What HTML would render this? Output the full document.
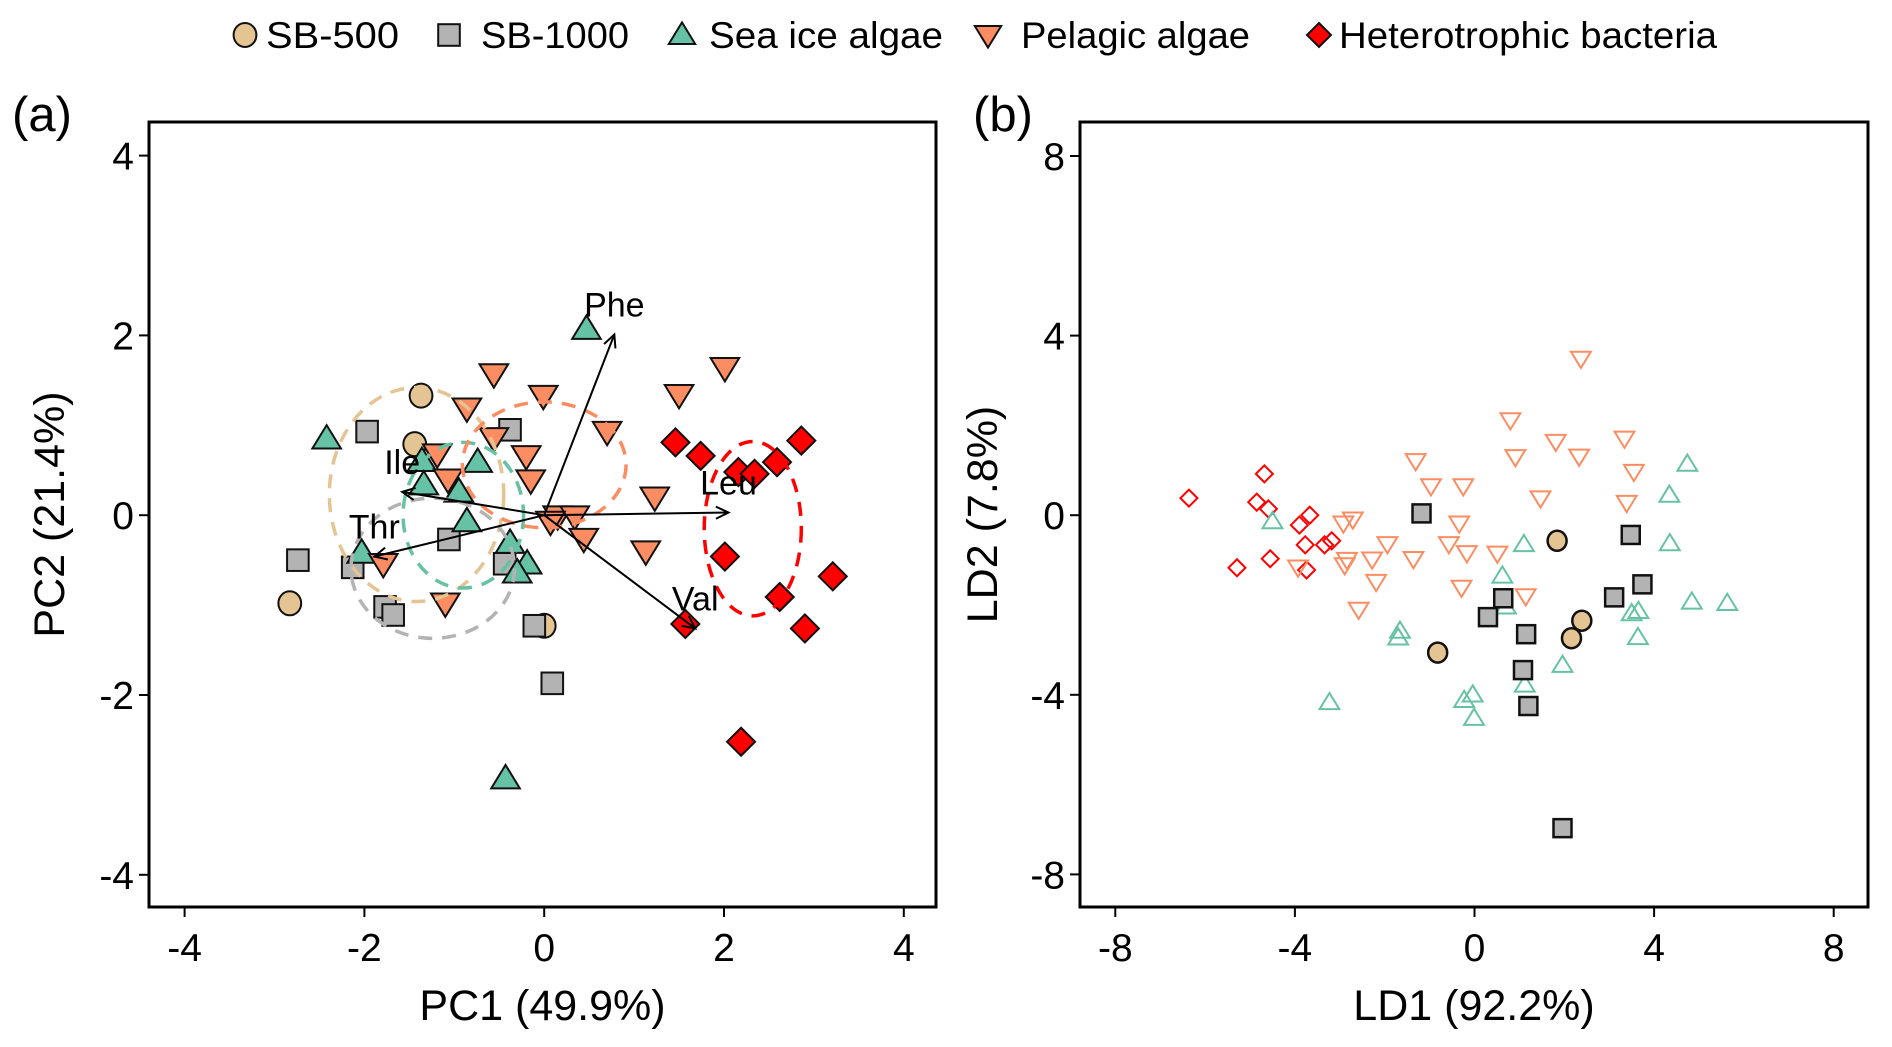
<!DOCTYPE html>
<html><head><meta charset="utf-8"><style>
html,body{margin:0;padding:0;background:#fff;}
svg{display:block;font-family:"Liberation Sans",Arial,sans-serif;}
</style></head><body>
<svg id="chart" width="1892" height="1047" viewBox="0 0 1892 1047" xmlns="http://www.w3.org/2000/svg">
<g id="legend"></g>
<text x="12" y="131" font-size="49">(a)</text>
<text x="973" y="131" font-size="49">(b)</text>
<g id="pa"></g>
<g id="pb"></g>
</svg>
<script>
// ---------- data: panel (a) PCA ----------
const pcaSB500X = [-1.37,-1.44,-2.83,0.0];
const pcaSB500Y = [1.33,0.79,-0.98,-1.23];
const pcaSB1000X = [-1.97,-0.38,-2.74,-2.13,-1.06,-1.77,-1.68,-0.44,-0.11,0.09];
const pcaSB1000Y = [0.93,0.95,-0.5,-0.58,-0.27,-1.02,-1.11,-0.54,-1.23,-1.87];
const pcaIceX = [0.47,-2.42,-1.36,-0.74,-1.34,-0.95,-0.86,-2.03,-0.38,-0.19,-0.30,-0.43];
const pcaIceY = [2.07,0.85,0.60,0.59,0.34,0.26,-0.07,-0.42,-0.31,-0.54,-0.64,-2.93];
const pcaPelX = [-0.56,-0.86,-0.01,0.70,-0.56,-1.19,-0.20,-0.15,-1.07,2.01,1.50,1.23,1.13,0.15,0.34,0.44,0.07,-1.79,-1.10];
const pcaPelY = [1.57,1.19,1.33,0.93,0.86,0.68,0.66,0.39,0.40,1.64,1.34,0.20,-0.40,-0.01,-0.01,-0.26,-0.07,-0.54,-0.98];
const pcaBacX = [1.46,1.74,2.16,2.34,2.59,2.86,2.01,2.62,3.21,2.90,1.57,2.19];
const pcaBacY = [0.81,0.66,0.48,0.46,0.59,0.83,-0.46,-0.91,-0.68,-1.26,-1.21,-2.52];
const loadNames = ["Phe","Ile","Thr","Leu","Val"];
const loadX = [0.78,-1.58,-1.89,2.05,1.68];
const loadY = [2.01,0.26,-0.46,0.03,-1.26];
const ellCX = [-1.42,-1.24,-0.90,0.0,2.32];
const ellCY = [0.23,-0.59,0.0,0.56,-0.15];
const ellRX = [0.97,0.91,0.67,0.91,0.54];
const ellRY = [1.19,0.78,0.81,0.70,0.97];
const pcaTicks = [-4,-2,0,2,4];
// ---------- data: panel (b) LDA ----------
const ldaSB500X = [1.84,2.39,2.16,-0.82];
const ldaSB500Y = [-0.57,-2.35,-2.74,-3.06];
const ldaSB1000X = [-1.18,3.48,3.74,3.11,0.64,0.30,1.15,1.08,1.20,1.96];
const ldaSB1000Y = [0.04,-0.44,-1.54,-1.83,-1.85,-2.27,-2.65,-3.45,-4.25,-6.97];
const ldaIceX = [4.74,4.34,4.35,-4.50,1.10,0.62,0.70,4.84,5.63,3.50,3.65,3.64,-1.66,-1.70,1.96,1.12,-3.23,-0.04,-0.23,-0.01];
const ldaIceY = [1.14,0.45,-0.63,-0.14,-0.65,-1.35,-2.04,-1.93,-1.96,-2.19,-2.14,-2.72,-2.58,-2.73,-3.34,-3.78,-4.17,-4.00,-4.12,-4.52];
const ldaPelX = [2.37,0.80,1.81,3.34,0.91,2.33,3.55,-1.31,-0.97,-0.25,1.47,3.39,-2.71,-2.92,-0.34,-1.94,-0.57,-0.17,0.51,-2.28,-1.36,-2.84,-2.89,-3.93,-2.19,-0.29,1.14,-2.58];
const ldaPelY = [3.49,2.12,1.64,1.71,1.30,1.31,0.97,1.21,0.65,0.65,0.38,0.28,-0.09,-0.18,-0.18,-0.64,-0.64,-0.84,-0.85,-0.98,-0.97,-0.99,-1.11,-1.16,-1.48,-1.61,-1.80,-2.10];
const ldaBacX = [-6.36,-4.68,-4.85,-4.59,-3.67,-3.90,-3.77,-3.34,-3.18,-4.55,-5.29,-3.74];
const ldaBacY = [0.38,0.92,0.29,0.14,0.0,-0.22,-0.66,-0.66,-0.57,-0.97,-1.17,-1.22];
const ldaTicks = [-8,-4,0,4,8];
const legendLabels = ["SB-500","SB-1000","Sea ice algae","Pelagic algae","Heterotrophic bacteria"];

const NS="http://www.w3.org/2000/svg";
const COL={c:"#E5C494",s:"#B3B3B3",t:"#66C2A5",d:"#FC8D62",r:"#FF0000"};
function mk(tag,attrs,parent){const e=document.createElementNS(NS,tag);for(const k in attrs)e.setAttribute(k,attrs[k]);parent.appendChild(e);return e;}
function shape(kind,x,y,sz,fill,stroke,sw,parent){
  let e;const h=sz/2;
  if(kind==="c"){e=mk("ellipse",{cx:x,cy:y,rx:h*0.95,ry:h,fill:fill,stroke:stroke,"stroke-width":sw},parent);}
  else if(kind==="s"){e=mk("rect",{x:x-h*0.9,y:y-h*0.9,width:sz*0.9,height:sz*0.9,fill:fill,stroke:stroke,"stroke-width":sw},parent);}
  else if(kind==="t"){e=mk("polygon",{points:`${x},${y-h*1.05} ${x-h*1.1},${y+h*0.75} ${x+h*1.1},${y+h*0.75}`,fill:fill,stroke:stroke,"stroke-width":sw},parent);}
  else if(kind==="d"){e=mk("polygon",{points:`${x},${y+h*1.05} ${x-h*1.1},${y-h*0.75} ${x+h*1.1},${y-h*0.75}`,fill:fill,stroke:stroke,"stroke-width":sw},parent);}
  else {e=mk("polygon",{points:`${x},${y-h} ${x+h},${y} ${x},${y+h} ${x-h},${y}`,fill:fill,stroke:stroke,"stroke-width":sw},parent);}
  return e;
}
function panel(g,L,R,T,B,x0,y0,ppu,ticks,xt,yt,ytx){
  const sx=v=>x0+v*ppu, sy=v=>y0-v*ppu;
  ticks.forEach(v=>{
    const a=mk("line",{x1:sx(v),x2:sx(v),y1:B,y2:B+10,stroke:"#000","stroke-width":2},g);
    
    const t=mk("text",{x:sx(v),y:B+54,"font-size":39,"text-anchor":"middle"},g);t.textContent=String(v);
    
    const b=mk("line",{x1:L-10,x2:L,y1:sy(v),y2:sy(v),stroke:"#000","stroke-width":2},g);
    
    const u=mk("text",{x:L-15,y:sy(v)+14,"font-size":39,"text-anchor":"end"},g);u.textContent=String(v);
    
  });
  const xa=mk("text",{x:(L+R)/2,y:B+113,"font-size":43,"text-anchor":"middle"},g);xa.textContent=xt;
  
  const ya=mk("text",{x:0,y:0,"font-size":43,"text-anchor":"middle",transform:`translate(${ytx},${(T+B)/2}) rotate(-90)`},g);ya.textContent=yt;
  
  return {sx,sy};
}
// Panel A
const pa=document.getElementById("pa");
const A=panel(pa,149,936,122,907,544.2,515.2,89.9,pcaTicks,"PC1 (49.9%)","PC2 (21.4%)",64);
const ellCols=[COL.c,COL.s,COL.t,COL.d,COL.r];
const ellNames=["ellipse-sb500","ellipse-sb1000","ellipse-sea-ice","ellipse-pelagic","ellipse-bacteria"];
function pts(g,X,Y,kind,fill,stroke,sw,sz,sc,name){X.forEach((v,i)=>{const e=shape(kind,sc.sx(v),sc.sy(Y[i]),sz,fill,stroke,sw,g);});}
pts(pa,pcaSB500X,pcaSB500Y,"c",COL.c,"#111",2,24,A,"sb500-point");
pts(pa,pcaSB1000X,pcaSB1000Y,"s",COL.s,"#111",2,24,A,"sb1000-point");
pts(pa,pcaIceX,pcaIceY,"t",COL.t,"#111",2,26,A,"sea-ice-point");
pts(pa,pcaPelX,pcaPelY,"d",COL.d,"#111",2,26,A,"pelagic-point");
pts(pa,pcaBacX,pcaBacY,"r",COL.r,"#111",2,28,A,"bacteria-point");
ellCX.forEach((c,i)=>{const e=mk("ellipse",{cx:A.sx(c),cy:A.sy(ellCY[i]),rx:ellRX[i]*89.9,ry:ellRY[i]*89.9,fill:"none",stroke:ellCols[i],"stroke-width":3.5,"stroke-dasharray":"14 10"},pa);
  });
loadX.forEach((v,i)=>{
  const x1=A.sx(0),y1=A.sy(0),x2=A.sx(v),y2=A.sy(loadY[i]);
  const l=mk("line",{x1,y1,x2,y2,stroke:"#000","stroke-width":2},pa);
  
  const ang=Math.atan2(y2-y1,x2-x1),hl=14;
  const h=mk("polyline",{points:`${x2-hl*Math.cos(ang-0.45)},${y2-hl*Math.sin(ang-0.45)} ${x2},${y2} ${x2-hl*Math.cos(ang+0.45)},${y2-hl*Math.sin(ang+0.45)}`,fill:"none",stroke:"#000","stroke-width":2},pa);
  
  const t=mk("text",{x:x2,y:y2-18,"font-size":34,"text-anchor":"middle"},pa);t.textContent=loadNames[i];
  
});
mk("rect",{x:149,y:122,width:787,height:785,fill:"none",stroke:"#000","stroke-width":3},pa);
// Panel B
const pb=document.getElementById("pb");
const B=panel(pb,1080,1868,122,907,1474.5,515.2,44.9,ldaTicks,"LD1 (92.2%)","LD2 (7.8%)",997);
pts(pb,ldaBacX,ldaBacY,"r","none",COL.r,2,17,B,"bacteria-point");
pts(pb,ldaPelX,ldaPelY,"d","none",COL.d,2,18,B,"pelagic-point");
pts(pb,ldaIceX,ldaIceY,"t","none",COL.t,2,18,B,"sea-ice-point");
pts(pb,ldaSB1000X,ldaSB1000Y,"s",COL.s,"#111",2.5,20,B,"sb1000-point");
pts(pb,ldaSB500X,ldaSB500Y,"c",COL.c,"#111",2.5,20,B,"sb500-point");
mk("rect",{x:1080,y:122,width:788,height:785,fill:"none",stroke:"#000","stroke-width":3},pb);
// Legend
const lg=document.getElementById("legend");
const lk=["c","s","t","d","r"],lx=[245,449,682,988,1319],tx=[266,481,709,1021,1339];
legendLabels.forEach((s,i)=>{
  const e=shape(lk[i],lx[i],35,24,ellCols[i],"#111",2,lg);
  
  const t=mk("text",{x:tx[i],y:48,"font-size":37,textLength:[133,148,234,229,378][i],lengthAdjust:"spacingAndGlyphs"},lg);t.textContent=s;
  
});
</script>
</body></html>
